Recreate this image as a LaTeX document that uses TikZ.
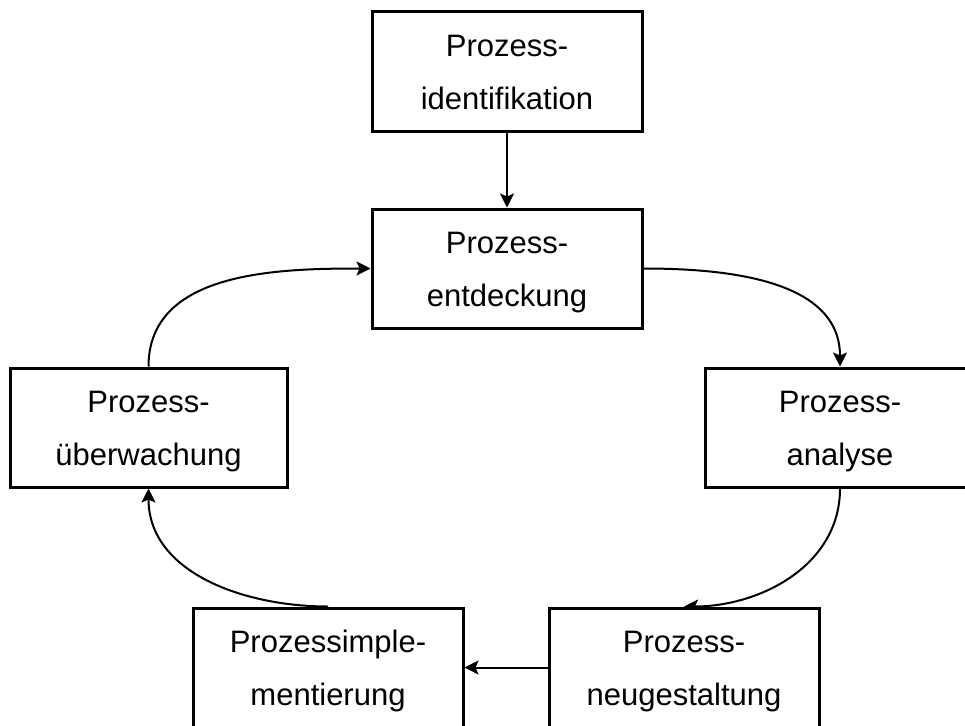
\documentclass[tikz,border=0pt]{standalone}
\usepackage{fontspec}
\setmainfont{Liberation Sans}
\usetikzlibrary{arrows.meta}
\pgfdeclarelayer{background}
\pgfsetlayers{background,main}
\begin{document}
\begin{tikzpicture}[x=1pt,y=-1pt,
  phase/.style={draw=black, line width=3pt, fill=white,
    minimum width=270pt, minimum height=119pt, inner sep=0pt,
    align=center, font=\fontsize{31}{53}\selectfont,
    text height=75pt, text depth=0pt},
  flow/.style={line width=2pt, -{Stealth[length=14pt,width=14pt,inset=3pt]}}]
\useasboundingbox (0,0) rectangle (965,725);

% process phases
\node[phase] (ident) at (507,71.5)  {Prozess-\\identifikation};
\node[phase] (entd)  at (507,268.5) {Prozess-\\entdeckung};
\node[phase, minimum width=277pt] (ueber) at (148.5,427.5) {Prozess-\\überwachung};
\node[phase] (ana)   at (840,427.5) {Prozess-\\analyse};
\node[phase] (impl)  at (328,667.5) {Prozessimple-\\mentierung};
\node[phase] (neu)   at (684,667.5) {Prozess-\\neugestaltung};

% cycle connectors, drawn beneath the boxes
\begin{pgfonlayer}{background}
\draw[flow] (ident) -- (entd);
\draw[flow] (entd.east) to[out=0,in=90] (ana.north);
\draw[flow] (ana.south) to[out=-90,in=0] (neu.north);
\draw[flow] (neu) -- (impl);
\draw[flow] (impl.north) to[out=180,in=-90] (ueber.south);
\draw[flow] (ueber.north) to[out=90,in=180] (entd.west);
\end{pgfonlayer}
\end{tikzpicture}
\end{document}
